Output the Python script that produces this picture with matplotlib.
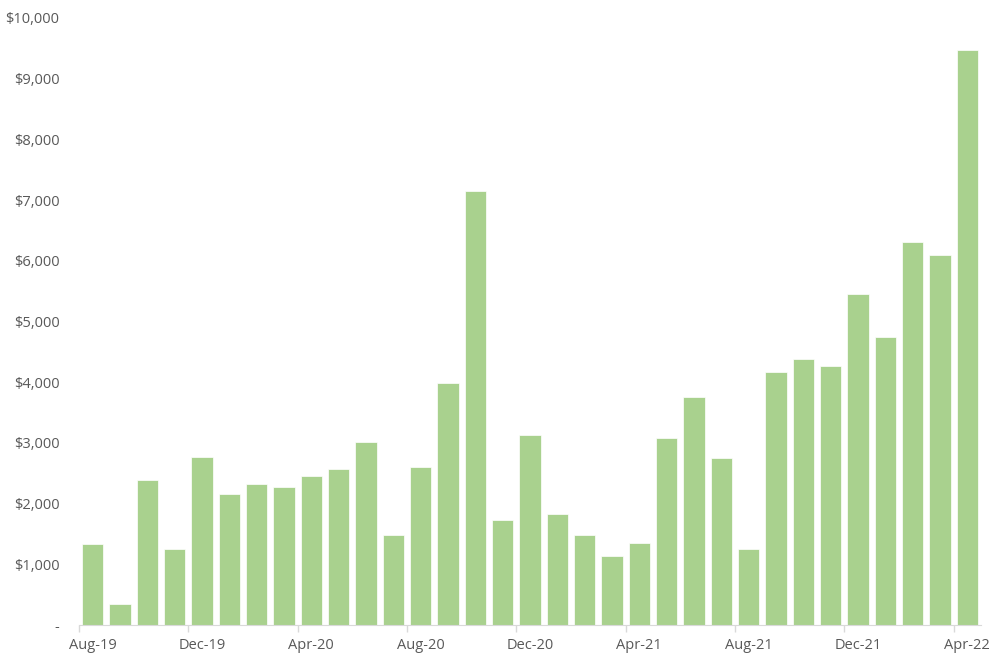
import numpy as np
import matplotlib.pyplot as plt
from matplotlib.ticker import FuncFormatter

# monthly values, Aug-19 .. Apr-22
months = ["Aug-19", "Sep-19", "Oct-19", "Nov-19", "Dec-19",
          "Jan-20", "Feb-20", "Mar-20", "Apr-20", "May-20", "Jun-20",
          "Jul-20", "Aug-20", "Sep-20", "Oct-20", "Nov-20", "Dec-20",
          "Jan-21", "Feb-21", "Mar-21", "Apr-21", "May-21", "Jun-21",
          "Jul-21", "Aug-21", "Sep-21", "Oct-21", "Nov-21", "Dec-21",
          "Jan-22", "Feb-22", "Mar-22", "Apr-22"]
values = [1340, 350, 2390, 1250, 2770,
          2160, 2320, 2270, 2460, 2570, 3010,
          1490, 2610, 3990, 7150, 1730, 3130,
          1830, 1490, 1140, 1350, 3080, 3760,
          2750, 1250, 4170, 4380, 4270, 5450,
          4740, 6310, 6100, 9470]

txt = "#595959"
plt.rcParams['font.family'] = ['Open Sans', 'DejaVu Sans']

fig = plt.figure(figsize=(10, 6.64), dpi=100)
ax = fig.add_axes([0.079, 0.0587, 0.902, 0.9142])

x = np.arange(len(months))
ax.bar(x, values, width=0.78, color="#A9D18E", edgecolor="white", linewidth=0.5)

ax.set_xlim(-0.5, len(months) - 0.5)
ax.set_ylim(0, 10000)

ax.set_yticks(np.arange(0, 10001, 1000))
ax.yaxis.set_major_formatter(FuncFormatter(lambda v, p: "-" if v == 0 else "${:,.0f}".format(v)))

lab_pos = x[::4]
ax.set_xticks(lab_pos)
ax.set_xticklabels([months[i] for i in lab_pos])
ax.set_xticks(np.arange(-0.5, len(months) - 1, 4), minor=True)
ax.tick_params(axis="x", which="major", length=0, pad=9, labelsize=10.5, colors=txt)
ax.tick_params(axis="x", which="minor", length=5, color="#D9D9D9", width=1)
ax.tick_params(axis="y", length=0, pad=14, labelsize=10.5, colors=txt)

for s in ["top", "right", "left"]:
    ax.spines[s].set_visible(False)
ax.spines["bottom"].set_color("#D9D9D9")

fig.savefig("out.png", dpi=100)
